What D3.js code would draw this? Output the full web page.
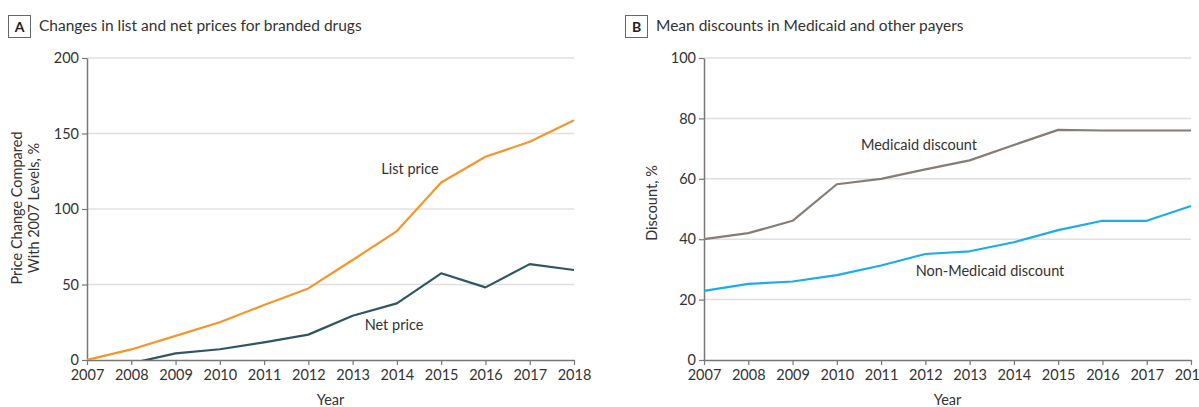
<!DOCTYPE html>
<html>
<head>
<meta charset="utf-8">
<script src="https://cdn.jsdelivr.net/npm/d3@7"></script>
<style>
  html, body { margin: 0; padding: 0; background: #fff; }
  svg { display: block; }
  text { font-family: Lato, "Open Sans", sans-serif; fill: #333; }
</style>
</head>
<body>
<svg id="chart" width="1199" height="407"></svg>
<script>
// ---------- data ----------
const years = [2007, 2008, 2009, 2010, 2011, 2012, 2013, 2014, 2015, 2016, 2017, 2018];
const listPrice = [0, 7, 16, 25, 36.4, 47.4, 66.2, 85.4, 117.6, 134.6, 144.5, 158.8];
const netPrice = [null, -2.2, 4.4, 7.1, 11.7, 16.8, 29.3, 37.5, 57.4, 48.1, 63.5, 59.6];
const medicaidDiscount = [40, 42, 46.1, 58.2, 60, 63.1, 66.1, 71.2, 76.2, 76, 76, 76];
const nonMedicaidDiscount = [22.9, 25.2, 26, 28.1, 31.3, 35.1, 36, 39, 43, 46.1, 46.1, 51];
const ticksA = [0, 50, 100, 150, 200];
const ticksB = [0, 20, 40, 60, 80, 100];
const titleA = "Changes in list and net prices for branded drugs";
const titleB = "Mean discounts in Medicaid and other payers";

const FONT = 'Lato, "Open Sans", sans-serif';
const svg = d3.select("#chart");

function panel(opts) {
  const g = svg.append("g");
  const x = d3.scaleLinear().domain([2007, 2018]).range([opts.x0, opts.x1]);
  const y = d3.scaleLinear().domain(opts.yDomain).range([360, 58]);

  // panel letter box + title
  g.append("rect").attr("x", opts.boxX + 0.5).attr("y", 15.5).attr("width", 22).attr("height", 22)
    .attr("fill", "#fff").attr("stroke", "#666").attr("stroke-width", 1);
  g.append("text").attr("x", opts.boxX + 11.5).attr("y", 31.5).attr("text-anchor", "middle")
    .style("font-weight", "bold").style("font-size", "14px").style("fill", "#222").text(opts.letter);
  g.append("text").attr("x", opts.boxX + 31).attr("y", 31)
    .style("font-size", "15.5px").style("fill", "#333").text(opts.title);

  // gridlines
  g.append("g").selectAll("line").data(opts.yTicks.filter(d => d !== 0)).join("line")
    .attr("x1", opts.x0).attr("x2", opts.x1)
    .attr("y1", d => y(d)).attr("y2", d => y(d))
    .attr("stroke", "#e0e0e0").attr("stroke-width", 1.5);

  // axes
  const yAxis = g.append("g").attr("transform", `translate(${opts.x0},0)`)
    .call(d3.axisLeft(y).tickValues(opts.yTicks).tickSize(5).tickSizeOuter(0).tickPadding(3));
  const xAxis = g.append("g").attr("transform", `translate(0,360)`)
    .call(d3.axisBottom(x).tickValues(years).tickFormat(d3.format("d")).tickSize(5).tickSizeOuter(0).tickPadding(5));
  [yAxis, xAxis].forEach(a => {
    a.select(".domain").attr("stroke", "#777").attr("stroke-width", 1.5);
    a.selectAll(".tick line").attr("stroke", "#777").attr("stroke-width", 1.2);
    a.selectAll(".tick text").style("font-size", "14.5px").style("fill", "#333").style("font-family", FONT);
  });

  // axis titles
  g.append("text").attr("x", (opts.x0 + opts.x1) / 2).attr("y", 405).attr("text-anchor", "middle")
    .style("font-size", "14.5px").text("Year");
  const yt = g.append("text").attr("transform", `translate(${opts.yTitleX},${opts.yTitleY}) rotate(-90)`)
    .attr("text-anchor", "middle").style("font-size", "14.5px");
  opts.yTitle.forEach((t, i) => yt.append("tspan").attr("x", 0).attr("dy", i === 0 ? 0 : 16.5).text(t));

  // clip
  const clipId = "clip" + opts.letter;
  svg.append("clipPath").attr("id", clipId).append("rect")
    .attr("x", opts.x0).attr("y", 40).attr("width", opts.x1 - opts.x0 + 2).attr("height", 360 - 40);

  const line = d3.line().defined(d => d[1] !== null).x(d => x(d[0])).y(d => y(d[1]));
  opts.series.forEach(s => {
    g.append("path").datum(years.map((yr, i) => [yr, s.values[i]]))
      .attr("clip-path", `url(#${clipId})`)
      .attr("fill", "none").attr("stroke", s.color).attr("stroke-width", 2.2)
      .attr("stroke-linejoin", "round").attr("d", line);
    g.append("text").attr("x", s.lx).attr("y", s.ly).attr("text-anchor", "middle")
      .style("font-size", "14.5px").style("fill", "#333").text(s.label);
  });
}

panel({
  letter: "A", title: titleA, boxX: 8, x0: 87, x1: 574, yDomain: [0, 200], yTicks: ticksA,
  yTitle: ["Price Change Compared", "With 2007 Levels, %"], yTitleX: 22, yTitleY: 208,
  series: [
    { values: listPrice, color: "#F5962A", label: "List price", lx: 410, ly: 174 },
    { values: netPrice, color: "#2F5663", label: "Net price", lx: 394, ly: 330 }
  ]
});

panel({
  letter: "B", title: titleB, boxX: 625, x0: 704, x1: 1191, yDomain: [0, 100], yTicks: ticksB,
  yTitle: ["Discount, %"], yTitleX: 657, yTitleY: 203,
  series: [
    { values: medicaidDiscount, color: "#877D74", label: "Medicaid discount", lx: 919, ly: 150 },
    { values: nonMedicaidDiscount, color: "#1BACEA", label: "Non-Medicaid discount", lx: 990, ly: 276 }
  ]
});
</script>
</body>
</html>
